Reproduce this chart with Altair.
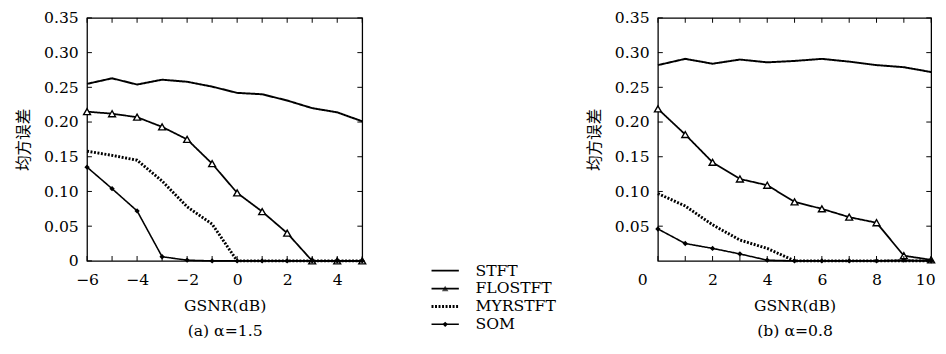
import altair as alt
import pandas as pd

# ---------------- data ----------------
series = ["STFT", "FLOSTFT", "MYRSTFT", "SOM"]

x_a = [-6, -5, -4, -3, -2, -1, 0, 1, 2, 3, 4, 5]
stft_a = [0.255, 0.263, 0.254, 0.261, 0.258, 0.251, 0.242, 0.240, 0.231, 0.220, 0.214, 0.201]
flo_a = [0.215, 0.212, 0.207, 0.193, 0.175, 0.140, 0.098, 0.071, 0.040, 0.0, 0.0, 0.0]
myr_a = [0.158, 0.152, 0.145, 0.115, 0.078, 0.053, 0.0, 0.0, 0.0, 0.0, 0.0, 0.0]
som_a = [0.135, 0.104, 0.072, 0.006, 0.001, 0.0, 0.0, 0.0, 0.0, 0.0, 0.0, 0.0]

x_b = [0, 1, 2, 3, 4, 5, 6, 7, 8, 9, 10]
stft_b = [0.282, 0.291, 0.284, 0.290, 0.286, 0.288, 0.291, 0.287, 0.282, 0.279, 0.272]
flo_b = [0.219, 0.182, 0.142, 0.118, 0.109, 0.085, 0.075, 0.063, 0.055, 0.0075, 0.0015]
myr_b = [0.097, 0.079, 0.052, 0.030, 0.018, 0.0, 0.0, 0.0, 0.0, 0.0, 0.0]
som_b = [0.046, 0.025, 0.018, 0.010, 0.001, 0.0, 0.0, 0.0, 0.0, 0.001, 0.0]

xlabels_a = [-6, -4, -2, 0, 2, 4]
xticks_a = x_a
ylabels_a = [0, 0.05, 0.10, 0.15, 0.20, 0.25, 0.30, 0.35]
xlabels_b = [0, 2, 4, 6, 8, 10]
xticks_b = x_b
ylabels_b = [0.05, 0.10, 0.15, 0.20, 0.25, 0.30, 0.35]

x_title = "GSNR(dB)"
y_title = "均方误差"
caption_a = "(a) α=1.5"
caption_b = "(b) α=0.8"

FONT = "DejaVu Serif"
CJK = "Noto Sans CJK SC"
FS = 16
W_A, W_B, H = 282, 280, 249

STYLE = {
    "STFT": dict(width=2.0, dash=[1, 0]),
    "FLOSTFT": dict(width=1.8, dash=[1, 0]),
    "MYRSTFT": dict(width=3.0, dash=[2, 1.6]),
    "SOM": dict(width=1.6, dash=[1, 0]),
}


def panel(xs, vals, xdom, xlabels, xticks, ylabels, caption, w, shift_ends):
    xscale = alt.Scale(domain=xdom, nice=False, zero=False)
    yscale = alt.Scale(domain=[0, 0.35], nice=False)
    if shift_ends:
        label_offset = {"condition": [{"test": "datum.value === 0", "value": -16},
                                      {"test": "datum.value === 10", "value": -6}],
                        "value": 0}
    else:
        label_offset = 0
    xaxis = alt.Axis(values=xlabels, ticks=False, domain=False, grid=False,
                     labelPadding=11, titlePadding=11, labelFont=FONT, labelFontSize=FS,
                     titleFont=FONT, titleFontSize=FS, titleFontWeight="normal",
                     titleLineHeight=25, labelColor="black", titleColor="black",
                     labelOffset=label_offset, labelFlush=False)
    yaxis = alt.Axis(values=ylabels, ticks=False, domain=False, grid=False,
                     labelPadding=9, titlePadding=12, labelFont=FONT, labelFontSize=FS,
                     titleFont=CJK, titleFontSize=FS, titleFontWeight="normal",
                     labelColor="black", titleColor="black",
                     labelExpr="datum.value === 0 ? '0' : format(datum.value, '.2f')")
    X = lambda f: alt.X(f, scale=xscale, axis=xaxis, title=[x_title, caption])
    Y = lambda f: alt.Y(f, scale=yscale, axis=yaxis, title=y_title)
    layers = []
    for name, v in zip(series, vals):
        df = pd.DataFrame({"x": xs, "v": v})
        st = STYLE[name]
        layers.append(alt.Chart(df).mark_line(color="black", strokeWidth=st["width"],
                                              strokeDash=st["dash"]).encode(
            x=X("x:Q"), y=Y("v:Q")))
        if name == "FLOSTFT":
            layers.append(alt.Chart(df).mark_point(shape="triangle-up", size=50, filled=False,
                                                    color="black", fill="white", fillOpacity=1,
                                                    strokeWidth=1.4).encode(
                x=X("x:Q"), y=Y("v:Q")))
        if name == "SOM":
            layers.append(alt.Chart(df).mark_point(shape="diamond", size=30, filled=True,
                                                    color="black", opacity=1).encode(
                x=X("x:Q"), y=Y("v:Q")))
    # inward tick marks on the four sides
    tx = pd.DataFrame({"x": xticks})
    ty = pd.DataFrame({"v": ylabels})
    tk = dict(color="black", strokeWidth=1)
    layers.append(alt.Chart(tx).mark_rule(**tk).encode(
        x=X("x:Q"), y=alt.value(H), y2=alt.value(H - 5)))
    layers.append(alt.Chart(tx).mark_rule(**tk).encode(
        x=X("x:Q"), y=alt.value(0), y2=alt.value(5)))
    layers.append(alt.Chart(ty).mark_rule(**tk).encode(
        y=Y("v:Q"), x=alt.value(0), x2=alt.value(5)))
    layers.append(alt.Chart(ty).mark_rule(**tk).encode(
        y=Y("v:Q"), x=alt.value(w), x2=alt.value(w - 5)))
    return alt.layer(*layers).properties(
        width=w, height=H, view=alt.ViewBackground(stroke="black", strokeWidth=1.3))


left = panel(x_a, [stft_a, flo_a, myr_a, som_a], [-6, 5], xlabels_a, xticks_a,
             ylabels_a, caption_a, W_A, False)
right = panel(x_b, [stft_b, flo_b, myr_b, som_b], [0, 10], xlabels_b, xticks_b,
              ylabels_b, caption_b, W_B, True)

# ---------------- legend panel ----------------
leg = pd.DataFrame({"s": series, "i": list(range(len(series)))})
ly = alt.Y("i:Q", scale=alt.Scale(domain=[0, 3], range=[259, 314]), axis=None)
LX0, LX1, LTX = 64, 92, 109
leg_layers = []
for name in series:
    st = STYLE[name]
    sub = alt.Chart(leg).transform_filter(alt.datum.s == name)
    leg_layers.append(sub.mark_rule(color="black", strokeWidth=st["width"],
                                    strokeDash=st["dash"]).encode(
        y=ly, x=alt.value(LX0), x2=alt.value(LX1)))
    if name == "FLOSTFT":
        leg_layers.append(sub.mark_point(shape="triangle-up", size=45, filled=True,
                                         color="black").encode(y=ly, x=alt.value((LX0 + LX1) / 2)))
    if name == "SOM":
        leg_layers.append(sub.mark_point(shape="diamond", size=30, filled=True,
                                         color="black", opacity=1).encode(y=ly, x=alt.value((LX0 + LX1) / 2)))
leg_layers.append(alt.Chart(leg).mark_text(align="left", baseline="middle", font=FONT,
                                           fontSize=FS, color="black").encode(
    y=ly, x=alt.value(LTX), text="s:N"))
legend = alt.layer(*leg_layers).properties(
    width=222, height=H, view=alt.ViewBackground(strokeOpacity=0))

chart = alt.hconcat(left, legend, right, spacing=0).properties(
    padding={"left": 7, "top": -3, "right": 0, "bottom": 0}
).configure(background="white")

chart.save("out.html", embed_options={"renderer": "svg", "actions": False})
